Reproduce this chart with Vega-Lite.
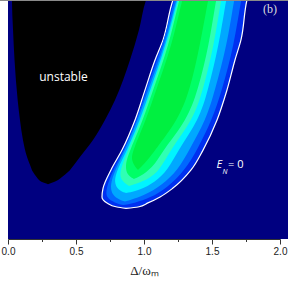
{
  "$schema": "https://vega.github.io/schema/vega-lite/v6.json",
  "width": 272,
  "height": 239,
  "autosize": {"type": "none"},
  "padding": {"left": 8, "top": 0, "right": 8, "bottom": 46},
  "background": "white",
  "config": {"view": {"stroke": null}},
  "datasets": {
    "black": [
      {"y": 0.229, "a": 0.294, "b": 0.294},
      {"y": 0.238, "a": 0.250, "b": 0.338},
      {"y": 0.247, "a": 0.228, "b": 0.368},
      {"y": 0.259, "a": 0.210, "b": 0.397},
      {"y": 0.280, "a": 0.184, "b": 0.441},
      {"y": 0.310, "a": 0.162, "b": 0.485},
      {"y": 0.343, "a": 0.140, "b": 0.529},
      {"y": 0.414, "a": 0.110, "b": 0.625},
      {"y": 0.498, "a": 0.088, "b": 0.713},
      {"y": 0.582, "a": 0.071, "b": 0.787},
      {"y": 0.749, "a": 0.048, "b": 0.897},
      {"y": 0.874, "a": 0.037, "b": 0.963},
      {"y": 1.000, "a": 0.029, "b": 1.015},
      {"y": 1.033, "a": 0.029, "b": 1.037}
    ],
    "lv": [
      {"l": 1, "y": 0.128, "a": 0.868, "b": 0.868},
      {"l": 1, "y": 0.134, "a": 0.801, "b": 0.956},
      {"l": 1, "y": 0.151, "a": 0.728, "b": 1.029},
      {"l": 1, "y": 0.176, "a": 0.691, "b": 1.118},
      {"l": 1, "y": 0.213, "a": 0.699, "b": 1.213},
      {"l": 1, "y": 0.289, "a": 0.757, "b": 1.346},
      {"l": 1, "y": 0.372, "a": 0.838, "b": 1.434},
      {"l": 1, "y": 0.498, "a": 0.934, "b": 1.537},
      {"l": 1, "y": 0.623, "a": 1.007, "b": 1.610},
      {"l": 1, "y": 0.749, "a": 1.081, "b": 1.669},
      {"l": 1, "y": 0.833, "a": 1.140, "b": 1.713},
      {"l": 1, "y": 1.000, "a": 1.213, "b": 1.757},
      {"l": 1, "y": 1.033, "a": 1.235, "b": 1.772},

      {"l": 2, "y": 0.142, "a": 0.846, "b": 0.846},
      {"l": 2, "y": 0.151, "a": 0.787, "b": 0.934},
      {"l": 2, "y": 0.172, "a": 0.721, "b": 1.044},
      {"l": 2, "y": 0.213, "a": 0.721, "b": 1.169},
      {"l": 2, "y": 0.289, "a": 0.772, "b": 1.301},
      {"l": 2, "y": 0.372, "a": 0.853, "b": 1.390},
      {"l": 2, "y": 0.498, "a": 0.949, "b": 1.500},
      {"l": 2, "y": 0.623, "a": 1.015, "b": 1.574},
      {"l": 2, "y": 0.812, "a": 1.140, "b": 1.662},
      {"l": 2, "y": 1.000, "a": 1.221, "b": 1.713},
      {"l": 2, "y": 1.033, "a": 1.243, "b": 1.728},

      {"l": 3, "y": 0.157, "a": 0.860, "b": 0.860},
      {"l": 3, "y": 0.163, "a": 0.824, "b": 0.897},
      {"l": 3, "y": 0.184, "a": 0.765, "b": 1.007},
      {"l": 3, "y": 0.226, "a": 0.750, "b": 1.132},
      {"l": 3, "y": 0.289, "a": 0.787, "b": 1.250},
      {"l": 3, "y": 0.372, "a": 0.860, "b": 1.331},
      {"l": 3, "y": 0.498, "a": 0.956, "b": 1.456},
      {"l": 3, "y": 0.623, "a": 1.029, "b": 1.522},
      {"l": 3, "y": 0.812, "a": 1.154, "b": 1.610},
      {"l": 3, "y": 1.000, "a": 1.235, "b": 1.662},
      {"l": 3, "y": 1.033, "a": 1.257, "b": 1.676},

      {"l": 4, "y": 0.192, "a": 0.868, "b": 0.868},
      {"l": 4, "y": 0.205, "a": 0.809, "b": 0.971},
      {"l": 4, "y": 0.238, "a": 0.779, "b": 1.081},
      {"l": 4, "y": 0.289, "a": 0.801, "b": 1.176},
      {"l": 4, "y": 0.372, "a": 0.875, "b": 1.250},
      {"l": 4, "y": 0.498, "a": 0.971, "b": 1.404},
      {"l": 4, "y": 0.623, "a": 1.044, "b": 1.471},
      {"l": 4, "y": 0.812, "a": 1.162, "b": 1.551},
      {"l": 4, "y": 1.000, "a": 1.243, "b": 1.603},
      {"l": 4, "y": 1.033, "a": 1.265, "b": 1.618},

      {"l": 5, "y": 0.222, "a": 0.890, "b": 0.890},
      {"l": 5, "y": 0.247, "a": 0.824, "b": 1.029},
      {"l": 5, "y": 0.289, "a": 0.824, "b": 1.118},
      {"l": 5, "y": 0.372, "a": 0.882, "b": 1.191},
      {"l": 5, "y": 0.498, "a": 0.978, "b": 1.360},
      {"l": 5, "y": 0.623, "a": 1.051, "b": 1.434},
      {"l": 5, "y": 0.812, "a": 1.169, "b": 1.515},
      {"l": 5, "y": 1.000, "a": 1.250, "b": 1.566},
      {"l": 5, "y": 1.033, "a": 1.272, "b": 1.581},

      {"l": 6, "y": 0.251, "a": 0.926, "b": 0.926},
      {"l": 6, "y": 0.268, "a": 0.875, "b": 0.993},
      {"l": 6, "y": 0.310, "a": 0.860, "b": 1.081},
      {"l": 6, "y": 0.372, "a": 0.897, "b": 1.140},
      {"l": 6, "y": 0.498, "a": 0.993, "b": 1.316},
      {"l": 6, "y": 0.623, "a": 1.066, "b": 1.397},
      {"l": 6, "y": 0.812, "a": 1.184, "b": 1.478},
      {"l": 6, "y": 1.000, "a": 1.257, "b": 1.529},
      {"l": 6, "y": 1.033, "a": 1.279, "b": 1.544},

      {"l": 7, "y": 0.289, "a": 0.956, "b": 0.956},
      {"l": 7, "y": 0.297, "a": 0.941, "b": 0.971},
      {"l": 7, "y": 0.331, "a": 0.904, "b": 1.029},
      {"l": 7, "y": 0.372, "a": 0.919, "b": 1.081},
      {"l": 7, "y": 0.498, "a": 1.015, "b": 1.250},
      {"l": 7, "y": 0.623, "a": 1.088, "b": 1.338},
      {"l": 7, "y": 0.812, "a": 1.206, "b": 1.412},
      {"l": 7, "y": 1.000, "a": 1.279, "b": 1.471},
      {"l": 7, "y": 1.033, "a": 1.301, "b": 1.485}
    ]
  },
  "encoding": {
    "x": {
      "field": "a", "type": "quantitative",
      "scale": {"domain": [0, 2], "nice": false, "zero": false},
      "title": "Δ/ωₘ",
      "axis": {
        "values": [0, 0.25, 0.5, 0.75, 1, 1.25, 1.5, 1.75, 2],
        "labelExpr": "abs(datum.value*2 - round(datum.value*2)) < 0.001 ? format(datum.value, '.1f') : ''",
        "tickSize": {"condition": {"test": "abs(datum.value*2 - round(datum.value*2)) < 0.001", "value": 5}, "value": 2.5},
        "grid": false,
        "labelFont": "Liberation Sans",
        "labelFontSize": 10,
        "labelColor": "#222",
        "labelPadding": 2,
        "labelFlush": false,
        "labelOverlap": false,
        "tickColor": "#333",
        "domainColor": "#333",
        "titleFont": "Liberation Serif",
        "titleFontSize": 13,
        "titleFontWeight": "normal",
        "titleColor": "#222",
        "titlePadding": 8
      }
    },
    "y": {"field": "y", "type": "quantitative", "scale": {"domain": [0, 1], "nice": false, "zero": false}, "axis": null}
  },
  "layer": [
    {
      "data": {"values": [{"a": 0, "b": 2.06, "y": 0, "y1": 1}]},
      "mark": {"type": "rect", "color": "#000080"},
      "encoding": {"x2": {"field": "b"}, "y2": {"field": "y1"}}
    },
    {
      "data": {"name": "black"},
      "mark": {"type": "area", "orient": "horizontal", "color": "#000000", "interpolate": "monotone", "clip": true},
      "encoding": {"x2": {"field": "b"}}
    },
    {
      "data": {"name": "lv"},
      "transform": [{"filter": "datum.l == 1"}],
      "mark": {"type": "area", "orient": "horizontal", "color": "#0030f0", "stroke": "#ffffff", "strokeWidth": 1.2, "interpolate": "monotone", "clip": true},
      "encoding": {"x2": {"field": "b"}}
    },
    {
      "data": {"name": "lv"},
      "transform": [{"filter": "datum.l == 2"}],
      "mark": {"type": "area", "orient": "horizontal", "color": "#0068ff", "interpolate": "basis", "clip": true},
      "encoding": {"x2": {"field": "b"}}
    },
    {
      "data": {"name": "lv"},
      "transform": [{"filter": "datum.l == 3"}],
      "mark": {"type": "area", "orient": "horizontal", "color": "#00a8ff", "interpolate": "basis", "clip": true},
      "encoding": {"x2": {"field": "b"}}
    },
    {
      "data": {"name": "lv"},
      "transform": [{"filter": "datum.l == 4"}],
      "mark": {"type": "area", "orient": "horizontal", "color": "#00f4ff", "interpolate": "basis", "clip": true},
      "encoding": {"x2": {"field": "b"}}
    },
    {
      "data": {"name": "lv"},
      "transform": [{"filter": "datum.l == 5"}],
      "mark": {"type": "area", "orient": "horizontal", "color": "#30ffb4", "interpolate": "basis", "clip": true},
      "encoding": {"x2": {"field": "b"}}
    },
    {
      "data": {"name": "lv"},
      "transform": [{"filter": "datum.l == 6"}],
      "mark": {"type": "area", "orient": "horizontal", "color": "#00ff66", "interpolate": "basis", "clip": true},
      "encoding": {"x2": {"field": "b"}}
    },
    {
      "data": {"name": "lv"},
      "transform": [{"filter": "datum.l == 7"}],
      "mark": {"type": "area", "orient": "horizontal", "color": "#00f040", "interpolate": "basis", "clip": true},
      "encoding": {"x2": {"field": "b"}}
    },
    {
      "data": {"values": [{"a": -0.06, "b": 2.06, "y": 1}]},
      "mark": {"type": "rule", "color": "#8a8a8a", "strokeWidth": 2},
      "encoding": {"x2": {"field": "b"}}
    },
    {
      "data": {"values": [{"a": 0.408, "y": 0.661, "t": "unstable"}]},
      "mark": {"type": "text", "color": "#ffffff", "font": "Open Sans", "fontSize": 12, "align": "center", "baseline": "alphabetic"},
      "encoding": {"text": {"field": "t"}}
    },
    {
      "data": {"values": [{"a": 1.533, "y": 0.297, "t": "E"}]},
      "mark": {"type": "text", "color": "#ffffff", "font": "Open Sans", "fontSize": 11, "fontStyle": "italic", "align": "left", "baseline": "alphabetic"},
      "encoding": {"text": {"field": "t"}}
    },
    {
      "data": {"values": [{"a": 1.578, "y": 0.274, "t": "N"}]},
      "mark": {"type": "text", "color": "#ffffff", "font": "Open Sans", "fontSize": 7, "fontStyle": "italic", "align": "left", "baseline": "alphabetic"},
      "encoding": {"text": {"field": "t"}}
    },
    {
      "data": {"values": [{"a": 1.618, "y": 0.297, "t": "= 0"}]},
      "mark": {"type": "text", "color": "#ffffff", "font": "Open Sans", "fontSize": 11, "align": "left", "baseline": "alphabetic"},
      "encoding": {"text": {"field": "t"}}
    },
    {
      "data": {"values": [{"a": 1.926, "y": 0.946, "t": "(b)"}]},
      "mark": {"type": "text", "color": "#dddddd", "font": "Liberation Serif", "fontSize": 12, "align": "center", "baseline": "alphabetic"},
      "encoding": {"text": {"field": "t"}}
    }
  ]
}
